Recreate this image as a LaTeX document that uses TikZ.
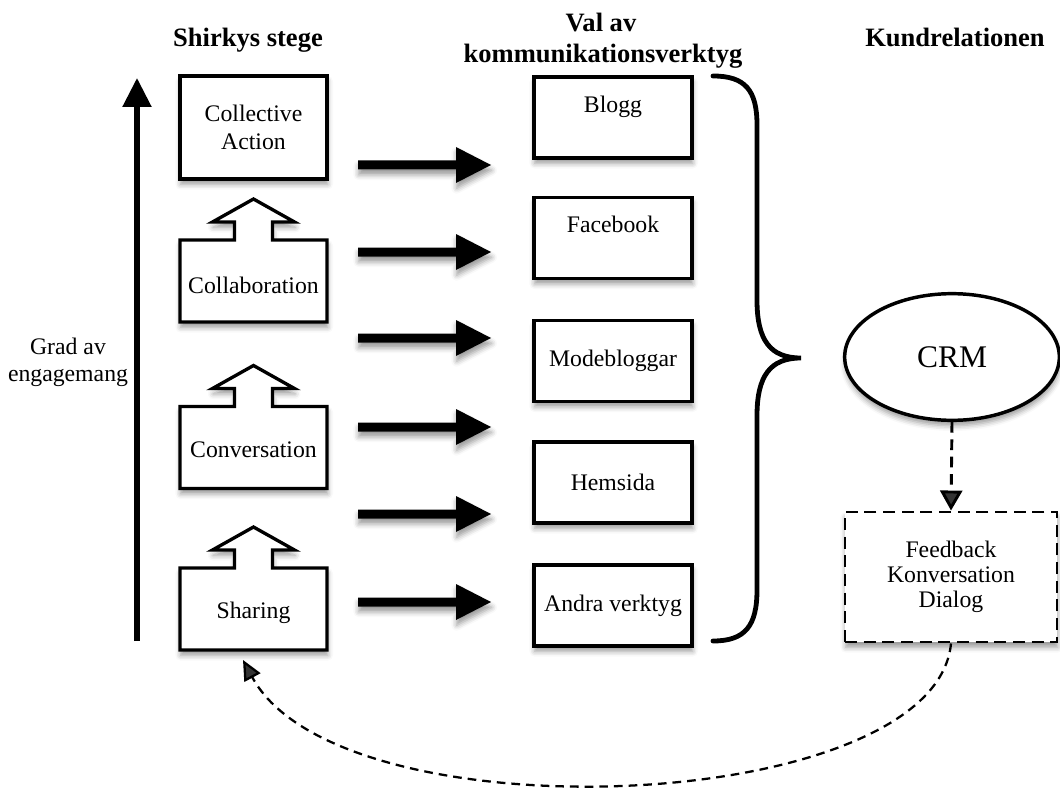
\documentclass[tikz,border=0pt]{standalone}
\usepackage{fontspec}
\setmainfont{Liberation Serif}
\usetikzlibrary{arrows.meta,shapes.geometric,shadows.blur,calc}
\newcommand\bodyfont{\fontsize{17.8}{20.5}\selectfont}
\newcommand\headfont{\fontsize{19.9}{23.25}\selectfont\bfseries}
\begin{document}
\begin{tikzpicture}[x=0.75pt,y=-0.75pt,
  shad/.style={blur shadow={shadow xshift=0.5pt,shadow yshift=-4pt,shadow blur radius=4pt,shadow opacity=40}},
  lbox/.style={draw=none,outer sep=0pt,inner sep=0pt,minimum width=110.25pt,minimum height=61.5pt},
  ltext/.style={align=center,font=\bodyfont,inner sep=0pt},
  outl/.style={draw,line width=2.5pt,fill=white,line join=miter,shad},
  rbox/.style={draw,line width=2.6pt,fill=white,outer sep=0pt,inner sep=0pt,minimum width=118.5pt,minimum height=60.75pt,align=center,font=\bodyfont,shad},
  head/.style={font=\headfont,anchor=base,inner sep=0pt},
  dasharr/.style={line width=2.2pt,dash pattern=on 8pt off 5pt,-{Triangle[length=15pt,width=16.5pt]}},
  curvarr/.style={line width=1.7pt,dash pattern=on 6.5pt off 4.5pt,-{Triangle[length=15pt,width=13.5pt]}}
]
\useasboundingbox (0,0) rectangle (1060,795);

% headers
\node[head] (hshirky) at (248,47) {Shirkys stege};
\node[head] (hval) at (601,32) {Val av};
\node[head] (hkomm) at (603,63) {kommunikationsverktyg};
\node[head] (hkund) at (955,47) {Kundrelationen};

% engagement axis
\node[align=center,font=\bodyfont,inner sep=0pt] (grad) at (68,362) {Grad av\\engagemang};
\coordinate (axb) at (137,641);
\coordinate (axt) at (137,78);
\draw[line width=4pt,-{Triangle[length=21.75pt,width=21pt]}] (axb) -- (axt);

% Shirky ladder: shapes first, then text
\node[lbox,minimum height=77.25pt] (ca) at (253.5,127.5) {};
\node[lbox] (cb) at (253.5,281) {};
\node[lbox] (cv) at (253.5,447.5) {};
\node[lbox] (sh) at (253.5,609) {};
\draw[outl] (ca.south west) rectangle (ca.north east);
\foreach \n in {cb,cv,sh}{
  \draw[outl] (\n.south west) -- (\n.south east) -- (\n.north east)
    -- ($(\n.north)+(19,0)$) -- ++(0,-18) -- ++(22,0) -- ++(-41,-23)
    -- ++(-41,23) -- ++(22,0) -- ++(0,18) -- (\n.north west) -- cycle;
}
\node[ltext] (cat) at (ca) {Collective\\Action};
\node[ltext] (cbt) at ($(cb)+(0,4)$) {Collaboration};
\node[ltext] (cvt) at ($(cv)+(0,2)$) {Conversation};
\node[ltext] (sht) at ($(sh)+(0,4)$) {Sharing};

% tools
\node[rbox] (blogg) at (613,117.5) {Blogg\\~};
\node[rbox] (fb1) at (613,238) {Facebook\\~};
\node[rbox] (mode) at (613,361) {Modebloggar};
\node[rbox] (hem) at (613,482.5) {Hemsida};
\node[rbox] (andra) at (613,605.5) {Andra verktyg};

% fat arrows
\foreach \i/\y in {1/165,2/252,3/338,4/427,5/514,6/602}{
  \coordinate (h\i s) at (358,\y);
  \coordinate (h\i e) at (491,\y);
  \fill[shad] ($(h\i s)+(0,-4.5)$) -- ++(98,0) -- ++(0,-13.5) -- (h\i e)
    -- ++(-35,18) -- ++(0,-13.5) -- ++(-98,0) -- cycle;
}

% brace
\coordinate (brt) at (713,76);
\coordinate (brtip) at (801,358);
\coordinate (brb) at (713,641);
\draw[line width=3.6pt,line cap=round] (brt) .. controls (745,76) and (757,90) .. (757,125)
  -- (757,300) .. controls (757,340) and (770,358) .. (brtip)
  .. controls (770,358) and (757,376) .. (757,416)
  -- (757,590) .. controls (757,626) and (745,641) .. (brb);

% CRM
\node[ellipse,draw,line width=2.6pt,fill=white,minimum width=161pt,minimum height=95pt,inner sep=0pt,font=\fontsize{23.6}{26}\selectfont,shad] (crm) at (952,357) {CRM};
\node[draw,line width=2.2pt,dash pattern=on 9pt off 5pt,fill=white,minimum width=159pt,minimum height=97.5pt,inner sep=0pt,align=center,font=\fontsize{17.8}{18.75}\selectfont,shad] (fbk) at (951,577) {Feedback\\Konversation\\Dialog};
\draw[dasharr] (crm.south) -- (fbk.north);

\coordinate (shin) at (243,660);
\draw[curvarr] (fbk.south) .. controls (935,815) and (340,840) .. (shin);
\end{tikzpicture}
\end{document}
